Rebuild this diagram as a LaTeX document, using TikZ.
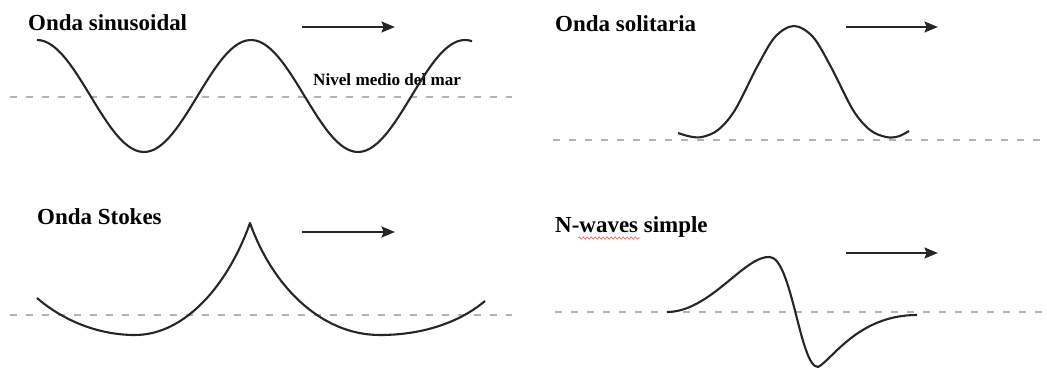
\documentclass[tikz,border=0pt]{standalone}
\usepackage{fontspec}
\setmainfont{Liberation Serif}
\usetikzlibrary{arrows.meta,positioning,decorations.pathmorphing}

\begin{document}
\begin{tikzpicture}[x=0.3mm, y=-0.3mm,
        titulo/.style={anchor=base west, inner sep=0pt, font=\fontsize{19.6}{22}\selectfont\bfseries},
        nivel/.style={anchor=base west, inner sep=0pt, font=\fontsize{14.6}{16}\selectfont\bfseries},
        flecha/.style={-{Stealth[length=4mm, width=3.2mm, inset=0.6mm]}, line width=2.4pt, black!85},
        onda/.style={line width=1.8pt, black!85, line join=round},
        mar/.style={gray!60, line width=1.6pt, dash pattern=on 2mm off 2.8mm}]
        \useasboundingbox (0,0) rectangle (1047,371);

        \node[titulo] (sintitulo) at (28,31) {Onda sinusoidal};
        \node[titulo] (soltitulo) at (555,32) {Onda solitaria};
        \node[titulo] (stokestitulo) at (37,225) {Onda Stokes};
        \node[titulo] (ntitulo) at (555,233) {N-waves simple};
        \node[nivel] (nivel) at (313,86) {Nivel medio del mar};

        \coordinate (sina) at (302,27);
        \coordinate (sinb) at (395,27);
        \coordinate (sola) at (846,27);
        \coordinate (solb) at (938,27);
        \coordinate (stokesa) at (302,232);
        \coordinate (stokesb) at (395,232);
        \coordinate (na) at (846,253);
        \coordinate (nb) at (938,253);
        \draw[flecha] (sina) -- (sinb);
        \draw[flecha] (sola) -- (solb);
        \draw[flecha] (stokesa) -- (stokesb);
        \draw[flecha] (na) -- (nb);

        \draw[mar] (10,97) -- (512,97);
        \draw[mar] (553,140) -- (1047,140);
        \draw[mar] (10,315) -- (512,315);
        \draw[mar] (555,312) -- (1047,312);

        \draw[onda] plot[domain=37:472, samples=120] (\x, {96-56*cos((\x-37)/214*360)});
        \draw[onda] plot[smooth, tension=0.55] coordinates {(678,133) (690,136.5) (702,137) (718,130) (735,110) (757,67) (775,37) (794,26) (813,37) (831,67) (853,110) (870,130) (886,137) (898,136.5) (909,131)};
        \draw[onda] (37,298) .. controls (60,318) and (95,335) .. (135,335) .. controls (185,335) and (228,285) .. (250,223) .. controls (272,285) and (320,335) .. (380,335) .. controls (430,335) and (465,318) .. (485,301);
        \draw[onda] (667,312) .. controls (710,312) and (745,255) .. (770,257) .. controls (792,259) and (800,367) .. (818,367) .. controls (832,360) and (858,315) .. (917,315);

        \draw[red!70, line width=0.5pt, decorate, decoration={snake, amplitude=0.35mm, segment length=1.2mm}] (578,238) -- (640,238);
    \end{tikzpicture}
\end{document}
